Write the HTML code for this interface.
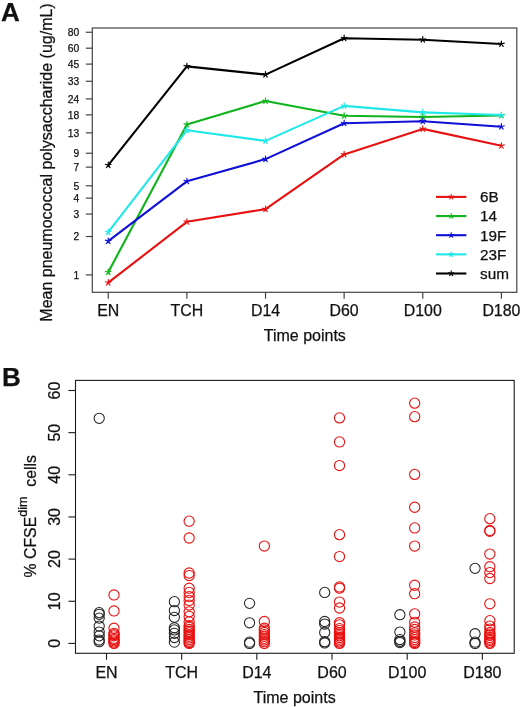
<!DOCTYPE html>
<html><head><meta charset="utf-8"><style>
html,body{margin:0;padding:0;background:#fff;width:520px;height:707px;overflow:hidden}
svg{display:block;font-family:"Liberation Sans",sans-serif;will-change:transform}
text{stroke:#111;stroke-width:0.25px}
</style></head><body>
<svg width="520" height="707" viewBox="0 0 520 707" font-family="Liberation Sans, sans-serif" fill="#111"><rect x="92.3" y="28.0" width="424.49999999999994" height="264.3" fill="none" stroke="#444" stroke-width="1.2"/>
<line x1="85.8" y1="32.26" x2="92.3" y2="32.26" stroke="#444" stroke-width="1.2"/>
<text x="79.2" y="36.06" text-anchor="end" font-size="10.3">80</text>
<line x1="85.8" y1="48.19" x2="92.3" y2="48.19" stroke="#444" stroke-width="1.2"/>
<text x="79.2" y="51.99" text-anchor="end" font-size="10.3">60</text>
<line x1="85.8" y1="64.12" x2="92.3" y2="64.12" stroke="#444" stroke-width="1.2"/>
<text x="79.2" y="67.92" text-anchor="end" font-size="10.3">45</text>
<line x1="85.8" y1="81.29" x2="92.3" y2="81.29" stroke="#444" stroke-width="1.2"/>
<text x="79.2" y="85.09" text-anchor="end" font-size="10.3">33</text>
<line x1="85.8" y1="98.92" x2="92.3" y2="98.92" stroke="#444" stroke-width="1.2"/>
<text x="79.2" y="102.72" text-anchor="end" font-size="10.3">24</text>
<line x1="85.8" y1="114.85" x2="92.3" y2="114.85" stroke="#444" stroke-width="1.2"/>
<text x="79.2" y="118.65" text-anchor="end" font-size="10.3">18</text>
<line x1="85.8" y1="132.87" x2="92.3" y2="132.87" stroke="#444" stroke-width="1.2"/>
<text x="79.2" y="136.67" text-anchor="end" font-size="10.3">13</text>
<line x1="85.8" y1="153.23" x2="92.3" y2="153.23" stroke="#444" stroke-width="1.2"/>
<text x="79.2" y="157.03" text-anchor="end" font-size="10.3">9</text>
<line x1="85.8" y1="167.15" x2="92.3" y2="167.15" stroke="#444" stroke-width="1.2"/>
<text x="79.2" y="170.95" text-anchor="end" font-size="10.3">7</text>
<line x1="85.8" y1="185.78" x2="92.3" y2="185.78" stroke="#444" stroke-width="1.2"/>
<text x="79.2" y="189.58" text-anchor="end" font-size="10.3">5</text>
<line x1="85.8" y1="198.14" x2="92.3" y2="198.14" stroke="#444" stroke-width="1.2"/>
<text x="79.2" y="201.94" text-anchor="end" font-size="10.3">4</text>
<line x1="85.8" y1="214.07" x2="92.3" y2="214.07" stroke="#444" stroke-width="1.2"/>
<text x="79.2" y="217.87" text-anchor="end" font-size="10.3">3</text>
<line x1="85.8" y1="236.52" x2="92.3" y2="236.52" stroke="#444" stroke-width="1.2"/>
<text x="79.2" y="240.32" text-anchor="end" font-size="10.3">2</text>
<line x1="85.8" y1="274.90" x2="92.3" y2="274.90" stroke="#444" stroke-width="1.2"/>
<text x="79.2" y="278.70" text-anchor="end" font-size="10.3">1</text>
<line x1="108.25" y1="292.3" x2="108.25" y2="298.8" stroke="#444" stroke-width="1.2"/>
<text x="108.25" y="315.7" text-anchor="middle" font-size="15.9">EN</text>
<line x1="186.88" y1="292.3" x2="186.88" y2="298.8" stroke="#444" stroke-width="1.2"/>
<text x="186.88" y="315.7" text-anchor="middle" font-size="15.9">TCH</text>
<line x1="265.51" y1="292.3" x2="265.51" y2="298.8" stroke="#444" stroke-width="1.2"/>
<text x="265.51" y="315.7" text-anchor="middle" font-size="15.9">D14</text>
<line x1="344.14" y1="292.3" x2="344.14" y2="298.8" stroke="#444" stroke-width="1.2"/>
<text x="344.14" y="315.7" text-anchor="middle" font-size="15.9">D60</text>
<line x1="422.77" y1="292.3" x2="422.77" y2="298.8" stroke="#444" stroke-width="1.2"/>
<text x="422.77" y="315.7" text-anchor="middle" font-size="15.9">D100</text>
<line x1="501.40" y1="292.3" x2="501.40" y2="298.8" stroke="#444" stroke-width="1.2"/>
<text x="501.40" y="315.7" text-anchor="middle" font-size="15.9">D180</text>
<text x="304.8" y="341" text-anchor="middle" font-size="16">Time points</text>
<text transform="translate(51.9,162.5) rotate(-90)" x="0" y="0" text-anchor="middle" font-size="16">Mean pneumococcal polysaccharide (ug/mL)</text>
<text x="1" y="21.1" font-size="26" font-weight="bold">A</text>
<polyline points="108.25,282.70 186.88,221.80 265.51,209.10 344.14,154.40 422.77,128.90 501.40,145.80" fill="none" stroke="#e81010" stroke-width="2.1" stroke-linejoin="round"/>
<path d="M108.25,282.70L108.25,279.70M108.25,282.70L111.10,281.77M108.25,282.70L110.01,285.13M108.25,282.70L106.49,285.13M108.25,282.70L105.40,281.77" stroke="#e81010" stroke-width="1.2" fill="none" stroke-linecap="round"/>
<path d="M186.88,221.80L186.88,218.80M186.88,221.80L189.73,220.87M186.88,221.80L188.64,224.23M186.88,221.80L185.12,224.23M186.88,221.80L184.03,220.87" stroke="#e81010" stroke-width="1.2" fill="none" stroke-linecap="round"/>
<path d="M265.51,209.10L265.51,206.10M265.51,209.10L268.36,208.17M265.51,209.10L267.27,211.53M265.51,209.10L263.75,211.53M265.51,209.10L262.66,208.17" stroke="#e81010" stroke-width="1.2" fill="none" stroke-linecap="round"/>
<path d="M344.14,154.40L344.14,151.40M344.14,154.40L346.99,153.47M344.14,154.40L345.90,156.83M344.14,154.40L342.38,156.83M344.14,154.40L341.29,153.47" stroke="#e81010" stroke-width="1.2" fill="none" stroke-linecap="round"/>
<path d="M422.77,128.90L422.77,125.90M422.77,128.90L425.62,127.97M422.77,128.90L424.53,131.33M422.77,128.90L421.01,131.33M422.77,128.90L419.92,127.97" stroke="#e81010" stroke-width="1.2" fill="none" stroke-linecap="round"/>
<path d="M501.40,145.80L501.40,142.80M501.40,145.80L504.25,144.87M501.40,145.80L503.16,148.23M501.40,145.80L499.64,148.23M501.40,145.80L498.55,144.87" stroke="#e81010" stroke-width="1.2" fill="none" stroke-linecap="round"/>
<polyline points="108.25,272.20 186.88,124.50 265.51,101.00 344.14,115.80 422.77,117.00 501.40,115.50" fill="none" stroke="#10b41c" stroke-width="2.1" stroke-linejoin="round"/>
<path d="M108.25,272.20L108.25,269.20M108.25,272.20L111.10,271.27M108.25,272.20L110.01,274.63M108.25,272.20L106.49,274.63M108.25,272.20L105.40,271.27" stroke="#10b41c" stroke-width="1.2" fill="none" stroke-linecap="round"/>
<path d="M186.88,124.50L186.88,121.50M186.88,124.50L189.73,123.57M186.88,124.50L188.64,126.93M186.88,124.50L185.12,126.93M186.88,124.50L184.03,123.57" stroke="#10b41c" stroke-width="1.2" fill="none" stroke-linecap="round"/>
<path d="M265.51,101.00L265.51,98.00M265.51,101.00L268.36,100.07M265.51,101.00L267.27,103.43M265.51,101.00L263.75,103.43M265.51,101.00L262.66,100.07" stroke="#10b41c" stroke-width="1.2" fill="none" stroke-linecap="round"/>
<path d="M344.14,115.80L344.14,112.80M344.14,115.80L346.99,114.87M344.14,115.80L345.90,118.23M344.14,115.80L342.38,118.23M344.14,115.80L341.29,114.87" stroke="#10b41c" stroke-width="1.2" fill="none" stroke-linecap="round"/>
<path d="M422.77,117.00L422.77,114.00M422.77,117.00L425.62,116.07M422.77,117.00L424.53,119.43M422.77,117.00L421.01,119.43M422.77,117.00L419.92,116.07" stroke="#10b41c" stroke-width="1.2" fill="none" stroke-linecap="round"/>
<path d="M501.40,115.50L501.40,112.50M501.40,115.50L504.25,114.57M501.40,115.50L503.16,117.93M501.40,115.50L499.64,117.93M501.40,115.50L498.55,114.57" stroke="#10b41c" stroke-width="1.2" fill="none" stroke-linecap="round"/>
<polyline points="108.25,241.10 186.88,181.30 265.51,159.10 344.14,123.20 422.77,121.30 501.40,126.70" fill="none" stroke="#1010d8" stroke-width="2.1" stroke-linejoin="round"/>
<path d="M108.25,241.10L108.25,238.10M108.25,241.10L111.10,240.17M108.25,241.10L110.01,243.53M108.25,241.10L106.49,243.53M108.25,241.10L105.40,240.17" stroke="#1010d8" stroke-width="1.2" fill="none" stroke-linecap="round"/>
<path d="M186.88,181.30L186.88,178.30M186.88,181.30L189.73,180.37M186.88,181.30L188.64,183.73M186.88,181.30L185.12,183.73M186.88,181.30L184.03,180.37" stroke="#1010d8" stroke-width="1.2" fill="none" stroke-linecap="round"/>
<path d="M265.51,159.10L265.51,156.10M265.51,159.10L268.36,158.17M265.51,159.10L267.27,161.53M265.51,159.10L263.75,161.53M265.51,159.10L262.66,158.17" stroke="#1010d8" stroke-width="1.2" fill="none" stroke-linecap="round"/>
<path d="M344.14,123.20L344.14,120.20M344.14,123.20L346.99,122.27M344.14,123.20L345.90,125.63M344.14,123.20L342.38,125.63M344.14,123.20L341.29,122.27" stroke="#1010d8" stroke-width="1.2" fill="none" stroke-linecap="round"/>
<path d="M422.77,121.30L422.77,118.30M422.77,121.30L425.62,120.37M422.77,121.30L424.53,123.73M422.77,121.30L421.01,123.73M422.77,121.30L419.92,120.37" stroke="#1010d8" stroke-width="1.2" fill="none" stroke-linecap="round"/>
<path d="M501.40,126.70L501.40,123.70M501.40,126.70L504.25,125.77M501.40,126.70L503.16,129.13M501.40,126.70L499.64,129.13M501.40,126.70L498.55,125.77" stroke="#1010d8" stroke-width="1.2" fill="none" stroke-linecap="round"/>
<polyline points="108.25,232.20 186.88,130.30 265.51,140.90 344.14,105.90 422.77,112.40 501.40,115.00" fill="none" stroke="#20e8e8" stroke-width="2.1" stroke-linejoin="round"/>
<path d="M108.25,232.20L108.25,229.20M108.25,232.20L111.10,231.27M108.25,232.20L110.01,234.63M108.25,232.20L106.49,234.63M108.25,232.20L105.40,231.27" stroke="#20e8e8" stroke-width="1.2" fill="none" stroke-linecap="round"/>
<path d="M186.88,130.30L186.88,127.30M186.88,130.30L189.73,129.37M186.88,130.30L188.64,132.73M186.88,130.30L185.12,132.73M186.88,130.30L184.03,129.37" stroke="#20e8e8" stroke-width="1.2" fill="none" stroke-linecap="round"/>
<path d="M265.51,140.90L265.51,137.90M265.51,140.90L268.36,139.97M265.51,140.90L267.27,143.33M265.51,140.90L263.75,143.33M265.51,140.90L262.66,139.97" stroke="#20e8e8" stroke-width="1.2" fill="none" stroke-linecap="round"/>
<path d="M344.14,105.90L344.14,102.90M344.14,105.90L346.99,104.97M344.14,105.90L345.90,108.33M344.14,105.90L342.38,108.33M344.14,105.90L341.29,104.97" stroke="#20e8e8" stroke-width="1.2" fill="none" stroke-linecap="round"/>
<path d="M422.77,112.40L422.77,109.40M422.77,112.40L425.62,111.47M422.77,112.40L424.53,114.83M422.77,112.40L421.01,114.83M422.77,112.40L419.92,111.47" stroke="#20e8e8" stroke-width="1.2" fill="none" stroke-linecap="round"/>
<path d="M501.40,115.00L501.40,112.00M501.40,115.00L504.25,114.07M501.40,115.00L503.16,117.43M501.40,115.00L499.64,117.43M501.40,115.00L498.55,114.07" stroke="#20e8e8" stroke-width="1.2" fill="none" stroke-linecap="round"/>
<polyline points="108.25,165.20 186.88,66.40 265.51,74.60 344.14,38.20 422.77,39.70 501.40,44.00" fill="none" stroke="#000000" stroke-width="2.1" stroke-linejoin="round"/>
<path d="M108.25,165.20L108.25,162.20M108.25,165.20L111.10,164.27M108.25,165.20L110.01,167.63M108.25,165.20L106.49,167.63M108.25,165.20L105.40,164.27" stroke="#000000" stroke-width="1.2" fill="none" stroke-linecap="round"/>
<path d="M186.88,66.40L186.88,63.40M186.88,66.40L189.73,65.47M186.88,66.40L188.64,68.83M186.88,66.40L185.12,68.83M186.88,66.40L184.03,65.47" stroke="#000000" stroke-width="1.2" fill="none" stroke-linecap="round"/>
<path d="M265.51,74.60L265.51,71.60M265.51,74.60L268.36,73.67M265.51,74.60L267.27,77.03M265.51,74.60L263.75,77.03M265.51,74.60L262.66,73.67" stroke="#000000" stroke-width="1.2" fill="none" stroke-linecap="round"/>
<path d="M344.14,38.20L344.14,35.20M344.14,38.20L346.99,37.27M344.14,38.20L345.90,40.63M344.14,38.20L342.38,40.63M344.14,38.20L341.29,37.27" stroke="#000000" stroke-width="1.2" fill="none" stroke-linecap="round"/>
<path d="M422.77,39.70L422.77,36.70M422.77,39.70L425.62,38.77M422.77,39.70L424.53,42.13M422.77,39.70L421.01,42.13M422.77,39.70L419.92,38.77" stroke="#000000" stroke-width="1.2" fill="none" stroke-linecap="round"/>
<path d="M501.40,44.00L501.40,41.00M501.40,44.00L504.25,43.07M501.40,44.00L503.16,46.43M501.40,44.00L499.64,46.43M501.40,44.00L498.55,43.07" stroke="#000000" stroke-width="1.2" fill="none" stroke-linecap="round"/>
<line x1="436" y1="196.90" x2="466.4" y2="196.90" stroke="#e81010" stroke-width="2.1"/>
<path d="M451.20,196.90L451.20,194.30M451.20,196.90L453.67,196.10M451.20,196.90L452.73,199.00M451.20,196.90L449.67,199.00M451.20,196.90L448.73,196.10" stroke="#e81010" stroke-width="1.1" fill="none" stroke-linecap="round"/>
<text x="480" y="202.30" font-size="15.3">6B</text>
<line x1="436" y1="216.05" x2="466.4" y2="216.05" stroke="#10b41c" stroke-width="2.1"/>
<path d="M451.20,216.05L451.20,213.45M451.20,216.05L453.67,215.25M451.20,216.05L452.73,218.15M451.20,216.05L449.67,218.15M451.20,216.05L448.73,215.25" stroke="#10b41c" stroke-width="1.1" fill="none" stroke-linecap="round"/>
<text x="480" y="221.45" font-size="15.3">14</text>
<line x1="436" y1="235.20" x2="466.4" y2="235.20" stroke="#1010d8" stroke-width="2.1"/>
<path d="M451.20,235.20L451.20,232.60M451.20,235.20L453.67,234.40M451.20,235.20L452.73,237.30M451.20,235.20L449.67,237.30M451.20,235.20L448.73,234.40" stroke="#1010d8" stroke-width="1.1" fill="none" stroke-linecap="round"/>
<text x="480" y="240.60" font-size="15.3">19F</text>
<line x1="436" y1="254.35" x2="466.4" y2="254.35" stroke="#20e8e8" stroke-width="2.1"/>
<path d="M451.20,254.35L451.20,251.75M451.20,254.35L453.67,253.55M451.20,254.35L452.73,256.45M451.20,254.35L449.67,256.45M451.20,254.35L448.73,253.55" stroke="#20e8e8" stroke-width="1.1" fill="none" stroke-linecap="round"/>
<text x="480" y="259.75" font-size="15.3">23F</text>
<line x1="436" y1="273.50" x2="466.4" y2="273.50" stroke="#000000" stroke-width="2.1"/>
<path d="M451.20,273.50L451.20,270.90M451.20,273.50L453.67,272.70M451.20,273.50L452.73,275.60M451.20,273.50L449.67,275.60M451.20,273.50L448.73,272.70" stroke="#000000" stroke-width="1.1" fill="none" stroke-linecap="round"/>
<text x="480" y="278.90" font-size="15.3">sum</text>
<rect x="75.5" y="380.4" width="438.70000000000005" height="272.9" fill="none" stroke="#1a1a1a" stroke-width="1.1"/>
<line x1="68.4" y1="643.40" x2="75.5" y2="643.40" stroke="#1a1a1a" stroke-width="1.1"/>
<text transform="translate(60,643.40) rotate(-90)" text-anchor="middle" font-size="16">0</text>
<line x1="68.4" y1="601.25" x2="75.5" y2="601.25" stroke="#1a1a1a" stroke-width="1.1"/>
<text transform="translate(60,601.25) rotate(-90)" text-anchor="middle" font-size="16">10</text>
<line x1="68.4" y1="559.10" x2="75.5" y2="559.10" stroke="#1a1a1a" stroke-width="1.1"/>
<text transform="translate(60,559.10) rotate(-90)" text-anchor="middle" font-size="16">20</text>
<line x1="68.4" y1="516.95" x2="75.5" y2="516.95" stroke="#1a1a1a" stroke-width="1.1"/>
<text transform="translate(60,516.95) rotate(-90)" text-anchor="middle" font-size="16">30</text>
<line x1="68.4" y1="474.80" x2="75.5" y2="474.80" stroke="#1a1a1a" stroke-width="1.1"/>
<text transform="translate(60,474.80) rotate(-90)" text-anchor="middle" font-size="16">40</text>
<line x1="68.4" y1="432.65" x2="75.5" y2="432.65" stroke="#1a1a1a" stroke-width="1.1"/>
<text transform="translate(60,432.65) rotate(-90)" text-anchor="middle" font-size="16">50</text>
<line x1="68.4" y1="390.50" x2="75.5" y2="390.50" stroke="#1a1a1a" stroke-width="1.1"/>
<text transform="translate(60,390.50) rotate(-90)" text-anchor="middle" font-size="16">60</text>
<line x1="106.50" y1="653.3" x2="106.50" y2="659.8" stroke="#1a1a1a" stroke-width="1.1"/>
<text x="106.50" y="677.5" text-anchor="middle" font-size="16">EN</text>
<line x1="181.67" y1="653.3" x2="181.67" y2="659.8" stroke="#1a1a1a" stroke-width="1.1"/>
<text x="181.67" y="677.5" text-anchor="middle" font-size="16">TCH</text>
<line x1="256.84" y1="653.3" x2="256.84" y2="659.8" stroke="#1a1a1a" stroke-width="1.1"/>
<text x="256.84" y="677.5" text-anchor="middle" font-size="16">D14</text>
<line x1="332.01" y1="653.3" x2="332.01" y2="659.8" stroke="#1a1a1a" stroke-width="1.1"/>
<text x="332.01" y="677.5" text-anchor="middle" font-size="16">D60</text>
<line x1="407.18" y1="653.3" x2="407.18" y2="659.8" stroke="#1a1a1a" stroke-width="1.1"/>
<text x="407.18" y="677.5" text-anchor="middle" font-size="16">D100</text>
<line x1="482.35" y1="653.3" x2="482.35" y2="659.8" stroke="#1a1a1a" stroke-width="1.1"/>
<text x="482.35" y="677.5" text-anchor="middle" font-size="16">D180</text>
<text x="294.6" y="702.8" text-anchor="middle" font-size="16">Time points</text>
<text transform="translate(35.6,577.4) rotate(-90)" font-size="15.8">% CFSE<tspan font-size="12.6" dy="-8.2">dim</tspan><tspan dy="8.2" dx="5.5"> cells</tspan></text>
<text x="2" y="385.7" font-size="26" font-weight="bold">B</text>
<circle cx="99.20" cy="418.32" r="5.1" fill="none" stroke="#222" stroke-width="1.05"/>
<circle cx="99.20" cy="612.63" r="5.1" fill="none" stroke="#222" stroke-width="1.05"/>
<circle cx="99.20" cy="614.32" r="5.1" fill="none" stroke="#222" stroke-width="1.05"/>
<circle cx="99.20" cy="618.11" r="5.1" fill="none" stroke="#222" stroke-width="1.05"/>
<circle cx="99.20" cy="626.12" r="5.1" fill="none" stroke="#222" stroke-width="1.05"/>
<circle cx="99.20" cy="632.02" r="5.1" fill="none" stroke="#222" stroke-width="1.05"/>
<circle cx="99.20" cy="635.81" r="5.1" fill="none" stroke="#222" stroke-width="1.05"/>
<circle cx="99.20" cy="640.03" r="5.1" fill="none" stroke="#222" stroke-width="1.05"/>
<circle cx="99.20" cy="641.71" r="5.1" fill="none" stroke="#222" stroke-width="1.05"/>
<circle cx="114.00" cy="594.93" r="5.1" fill="none" stroke="#e81010" stroke-width="1.1"/>
<circle cx="114.00" cy="610.94" r="5.1" fill="none" stroke="#e81010" stroke-width="1.1"/>
<circle cx="114.00" cy="628.23" r="5.1" fill="none" stroke="#e81010" stroke-width="1.1"/>
<circle cx="114.00" cy="633.28" r="5.1" fill="none" stroke="#e81010" stroke-width="1.1"/>
<circle cx="114.00" cy="634.55" r="5.1" fill="none" stroke="#e81010" stroke-width="1.1"/>
<circle cx="114.00" cy="635.81" r="5.1" fill="none" stroke="#e81010" stroke-width="1.1"/>
<circle cx="114.00" cy="638.34" r="5.1" fill="none" stroke="#e81010" stroke-width="1.1"/>
<circle cx="114.00" cy="639.61" r="5.1" fill="none" stroke="#e81010" stroke-width="1.1"/>
<circle cx="114.00" cy="640.87" r="5.1" fill="none" stroke="#e81010" stroke-width="1.1"/>
<circle cx="114.00" cy="642.14" r="5.1" fill="none" stroke="#e81010" stroke-width="1.1"/>
<circle cx="114.00" cy="643.40" r="5.1" fill="none" stroke="#e81010" stroke-width="1.1"/>
<circle cx="174.37" cy="601.67" r="5.1" fill="none" stroke="#222" stroke-width="1.05"/>
<circle cx="174.37" cy="610.52" r="5.1" fill="none" stroke="#222" stroke-width="1.05"/>
<circle cx="174.37" cy="617.27" r="5.1" fill="none" stroke="#222" stroke-width="1.05"/>
<circle cx="174.37" cy="627.80" r="5.1" fill="none" stroke="#222" stroke-width="1.05"/>
<circle cx="174.37" cy="629.91" r="5.1" fill="none" stroke="#222" stroke-width="1.05"/>
<circle cx="174.37" cy="633.28" r="5.1" fill="none" stroke="#222" stroke-width="1.05"/>
<circle cx="174.37" cy="637.50" r="5.1" fill="none" stroke="#222" stroke-width="1.05"/>
<circle cx="174.37" cy="642.14" r="5.1" fill="none" stroke="#222" stroke-width="1.05"/>
<circle cx="189.17" cy="521.16" r="5.1" fill="none" stroke="#e81010" stroke-width="1.1"/>
<circle cx="189.17" cy="538.02" r="5.1" fill="none" stroke="#e81010" stroke-width="1.1"/>
<circle cx="189.17" cy="573.01" r="5.1" fill="none" stroke="#e81010" stroke-width="1.1"/>
<circle cx="189.17" cy="575.54" r="5.1" fill="none" stroke="#e81010" stroke-width="1.1"/>
<circle cx="189.17" cy="588.18" r="5.1" fill="none" stroke="#e81010" stroke-width="1.1"/>
<circle cx="189.17" cy="592.40" r="5.1" fill="none" stroke="#e81010" stroke-width="1.1"/>
<circle cx="189.17" cy="596.61" r="5.1" fill="none" stroke="#e81010" stroke-width="1.1"/>
<circle cx="189.17" cy="600.41" r="5.1" fill="none" stroke="#e81010" stroke-width="1.1"/>
<circle cx="189.17" cy="605.04" r="5.1" fill="none" stroke="#e81010" stroke-width="1.1"/>
<circle cx="189.17" cy="611.79" r="5.1" fill="none" stroke="#e81010" stroke-width="1.1"/>
<circle cx="189.17" cy="616.42" r="5.1" fill="none" stroke="#e81010" stroke-width="1.1"/>
<circle cx="189.17" cy="621.90" r="5.1" fill="none" stroke="#e81010" stroke-width="1.1"/>
<circle cx="189.17" cy="625.70" r="5.1" fill="none" stroke="#e81010" stroke-width="1.1"/>
<circle cx="189.17" cy="627.38" r="5.1" fill="none" stroke="#e81010" stroke-width="1.1"/>
<circle cx="189.17" cy="629.49" r="5.1" fill="none" stroke="#e81010" stroke-width="1.1"/>
<circle cx="189.17" cy="631.18" r="5.1" fill="none" stroke="#e81010" stroke-width="1.1"/>
<circle cx="189.17" cy="632.86" r="5.1" fill="none" stroke="#e81010" stroke-width="1.1"/>
<circle cx="189.17" cy="634.55" r="5.1" fill="none" stroke="#e81010" stroke-width="1.1"/>
<circle cx="189.17" cy="636.23" r="5.1" fill="none" stroke="#e81010" stroke-width="1.1"/>
<circle cx="189.17" cy="637.92" r="5.1" fill="none" stroke="#e81010" stroke-width="1.1"/>
<circle cx="189.17" cy="639.61" r="5.1" fill="none" stroke="#e81010" stroke-width="1.1"/>
<circle cx="189.17" cy="641.29" r="5.1" fill="none" stroke="#e81010" stroke-width="1.1"/>
<circle cx="189.17" cy="642.56" r="5.1" fill="none" stroke="#e81010" stroke-width="1.1"/>
<circle cx="189.17" cy="643.40" r="5.1" fill="none" stroke="#e81010" stroke-width="1.1"/>
<circle cx="249.54" cy="603.36" r="5.1" fill="none" stroke="#222" stroke-width="1.05"/>
<circle cx="249.54" cy="622.75" r="5.1" fill="none" stroke="#222" stroke-width="1.05"/>
<circle cx="249.54" cy="642.14" r="5.1" fill="none" stroke="#222" stroke-width="1.05"/>
<circle cx="249.54" cy="643.40" r="5.1" fill="none" stroke="#222" stroke-width="1.05"/>
<circle cx="264.34" cy="546.03" r="5.1" fill="none" stroke="#e81010" stroke-width="1.1"/>
<circle cx="264.34" cy="621.48" r="5.1" fill="none" stroke="#e81010" stroke-width="1.1"/>
<circle cx="264.34" cy="628.23" r="5.1" fill="none" stroke="#e81010" stroke-width="1.1"/>
<circle cx="264.34" cy="629.91" r="5.1" fill="none" stroke="#e81010" stroke-width="1.1"/>
<circle cx="264.34" cy="632.44" r="5.1" fill="none" stroke="#e81010" stroke-width="1.1"/>
<circle cx="264.34" cy="634.55" r="5.1" fill="none" stroke="#e81010" stroke-width="1.1"/>
<circle cx="264.34" cy="636.23" r="5.1" fill="none" stroke="#e81010" stroke-width="1.1"/>
<circle cx="264.34" cy="638.34" r="5.1" fill="none" stroke="#e81010" stroke-width="1.1"/>
<circle cx="264.34" cy="640.03" r="5.1" fill="none" stroke="#e81010" stroke-width="1.1"/>
<circle cx="264.34" cy="641.71" r="5.1" fill="none" stroke="#e81010" stroke-width="1.1"/>
<circle cx="264.34" cy="643.40" r="5.1" fill="none" stroke="#e81010" stroke-width="1.1"/>
<circle cx="324.71" cy="592.40" r="5.1" fill="none" stroke="#222" stroke-width="1.05"/>
<circle cx="324.71" cy="621.48" r="5.1" fill="none" stroke="#222" stroke-width="1.05"/>
<circle cx="324.71" cy="624.01" r="5.1" fill="none" stroke="#222" stroke-width="1.05"/>
<circle cx="324.71" cy="632.44" r="5.1" fill="none" stroke="#222" stroke-width="1.05"/>
<circle cx="324.71" cy="641.71" r="5.1" fill="none" stroke="#222" stroke-width="1.05"/>
<circle cx="324.71" cy="642.98" r="5.1" fill="none" stroke="#222" stroke-width="1.05"/>
<circle cx="339.51" cy="417.90" r="5.1" fill="none" stroke="#e81010" stroke-width="1.1"/>
<circle cx="339.51" cy="441.92" r="5.1" fill="none" stroke="#e81010" stroke-width="1.1"/>
<circle cx="339.51" cy="465.53" r="5.1" fill="none" stroke="#e81010" stroke-width="1.1"/>
<circle cx="339.51" cy="534.65" r="5.1" fill="none" stroke="#e81010" stroke-width="1.1"/>
<circle cx="339.51" cy="556.57" r="5.1" fill="none" stroke="#e81010" stroke-width="1.1"/>
<circle cx="339.51" cy="586.92" r="5.1" fill="none" stroke="#e81010" stroke-width="1.1"/>
<circle cx="339.51" cy="588.18" r="5.1" fill="none" stroke="#e81010" stroke-width="1.1"/>
<circle cx="339.51" cy="602.09" r="5.1" fill="none" stroke="#e81010" stroke-width="1.1"/>
<circle cx="339.51" cy="607.99" r="5.1" fill="none" stroke="#e81010" stroke-width="1.1"/>
<circle cx="339.51" cy="622.75" r="5.1" fill="none" stroke="#e81010" stroke-width="1.1"/>
<circle cx="339.51" cy="624.85" r="5.1" fill="none" stroke="#e81010" stroke-width="1.1"/>
<circle cx="339.51" cy="628.65" r="5.1" fill="none" stroke="#e81010" stroke-width="1.1"/>
<circle cx="339.51" cy="630.33" r="5.1" fill="none" stroke="#e81010" stroke-width="1.1"/>
<circle cx="339.51" cy="632.44" r="5.1" fill="none" stroke="#e81010" stroke-width="1.1"/>
<circle cx="339.51" cy="634.13" r="5.1" fill="none" stroke="#e81010" stroke-width="1.1"/>
<circle cx="339.51" cy="635.81" r="5.1" fill="none" stroke="#e81010" stroke-width="1.1"/>
<circle cx="339.51" cy="637.50" r="5.1" fill="none" stroke="#e81010" stroke-width="1.1"/>
<circle cx="339.51" cy="639.18" r="5.1" fill="none" stroke="#e81010" stroke-width="1.1"/>
<circle cx="339.51" cy="640.87" r="5.1" fill="none" stroke="#e81010" stroke-width="1.1"/>
<circle cx="339.51" cy="642.14" r="5.1" fill="none" stroke="#e81010" stroke-width="1.1"/>
<circle cx="339.51" cy="643.40" r="5.1" fill="none" stroke="#e81010" stroke-width="1.1"/>
<circle cx="399.88" cy="614.74" r="5.1" fill="none" stroke="#222" stroke-width="1.05"/>
<circle cx="399.88" cy="632.02" r="5.1" fill="none" stroke="#222" stroke-width="1.05"/>
<circle cx="399.88" cy="639.61" r="5.1" fill="none" stroke="#222" stroke-width="1.05"/>
<circle cx="399.88" cy="641.29" r="5.1" fill="none" stroke="#222" stroke-width="1.05"/>
<circle cx="399.88" cy="642.56" r="5.1" fill="none" stroke="#222" stroke-width="1.05"/>
<circle cx="414.68" cy="403.14" r="5.1" fill="none" stroke="#e81010" stroke-width="1.1"/>
<circle cx="414.68" cy="416.63" r="5.1" fill="none" stroke="#e81010" stroke-width="1.1"/>
<circle cx="414.68" cy="474.38" r="5.1" fill="none" stroke="#e81010" stroke-width="1.1"/>
<circle cx="414.68" cy="507.26" r="5.1" fill="none" stroke="#e81010" stroke-width="1.1"/>
<circle cx="414.68" cy="527.91" r="5.1" fill="none" stroke="#e81010" stroke-width="1.1"/>
<circle cx="414.68" cy="546.03" r="5.1" fill="none" stroke="#e81010" stroke-width="1.1"/>
<circle cx="414.68" cy="585.23" r="5.1" fill="none" stroke="#e81010" stroke-width="1.1"/>
<circle cx="414.68" cy="593.66" r="5.1" fill="none" stroke="#e81010" stroke-width="1.1"/>
<circle cx="414.68" cy="613.89" r="5.1" fill="none" stroke="#e81010" stroke-width="1.1"/>
<circle cx="414.68" cy="622.32" r="5.1" fill="none" stroke="#e81010" stroke-width="1.1"/>
<circle cx="414.68" cy="626.96" r="5.1" fill="none" stroke="#e81010" stroke-width="1.1"/>
<circle cx="414.68" cy="629.49" r="5.1" fill="none" stroke="#e81010" stroke-width="1.1"/>
<circle cx="414.68" cy="632.86" r="5.1" fill="none" stroke="#e81010" stroke-width="1.1"/>
<circle cx="414.68" cy="634.97" r="5.1" fill="none" stroke="#e81010" stroke-width="1.1"/>
<circle cx="414.68" cy="637.50" r="5.1" fill="none" stroke="#e81010" stroke-width="1.1"/>
<circle cx="414.68" cy="639.61" r="5.1" fill="none" stroke="#e81010" stroke-width="1.1"/>
<circle cx="414.68" cy="641.29" r="5.1" fill="none" stroke="#e81010" stroke-width="1.1"/>
<circle cx="414.68" cy="642.56" r="5.1" fill="none" stroke="#e81010" stroke-width="1.1"/>
<circle cx="414.68" cy="643.40" r="5.1" fill="none" stroke="#e81010" stroke-width="1.1"/>
<circle cx="475.05" cy="568.37" r="5.1" fill="none" stroke="#222" stroke-width="1.05"/>
<circle cx="475.05" cy="633.71" r="5.1" fill="none" stroke="#222" stroke-width="1.05"/>
<circle cx="475.05" cy="642.14" r="5.1" fill="none" stroke="#222" stroke-width="1.05"/>
<circle cx="475.05" cy="643.40" r="5.1" fill="none" stroke="#222" stroke-width="1.05"/>
<circle cx="489.85" cy="518.64" r="5.1" fill="none" stroke="#e81010" stroke-width="1.1"/>
<circle cx="489.85" cy="530.44" r="5.1" fill="none" stroke="#e81010" stroke-width="1.1"/>
<circle cx="489.85" cy="531.28" r="5.1" fill="none" stroke="#e81010" stroke-width="1.1"/>
<circle cx="489.85" cy="554.04" r="5.1" fill="none" stroke="#e81010" stroke-width="1.1"/>
<circle cx="489.85" cy="566.69" r="5.1" fill="none" stroke="#e81010" stroke-width="1.1"/>
<circle cx="489.85" cy="572.59" r="5.1" fill="none" stroke="#e81010" stroke-width="1.1"/>
<circle cx="489.85" cy="578.49" r="5.1" fill="none" stroke="#e81010" stroke-width="1.1"/>
<circle cx="489.85" cy="603.78" r="5.1" fill="none" stroke="#e81010" stroke-width="1.1"/>
<circle cx="489.85" cy="620.64" r="5.1" fill="none" stroke="#e81010" stroke-width="1.1"/>
<circle cx="489.85" cy="626.12" r="5.1" fill="none" stroke="#e81010" stroke-width="1.1"/>
<circle cx="489.85" cy="629.07" r="5.1" fill="none" stroke="#e81010" stroke-width="1.1"/>
<circle cx="489.85" cy="632.44" r="5.1" fill="none" stroke="#e81010" stroke-width="1.1"/>
<circle cx="489.85" cy="634.13" r="5.1" fill="none" stroke="#e81010" stroke-width="1.1"/>
<circle cx="489.85" cy="635.39" r="5.1" fill="none" stroke="#e81010" stroke-width="1.1"/>
<circle cx="489.85" cy="637.50" r="5.1" fill="none" stroke="#e81010" stroke-width="1.1"/>
<circle cx="489.85" cy="639.18" r="5.1" fill="none" stroke="#e81010" stroke-width="1.1"/>
<circle cx="489.85" cy="640.45" r="5.1" fill="none" stroke="#e81010" stroke-width="1.1"/>
<circle cx="489.85" cy="642.14" r="5.1" fill="none" stroke="#e81010" stroke-width="1.1"/>
<circle cx="489.85" cy="643.40" r="5.1" fill="none" stroke="#e81010" stroke-width="1.1"/></svg>
</body></html>
